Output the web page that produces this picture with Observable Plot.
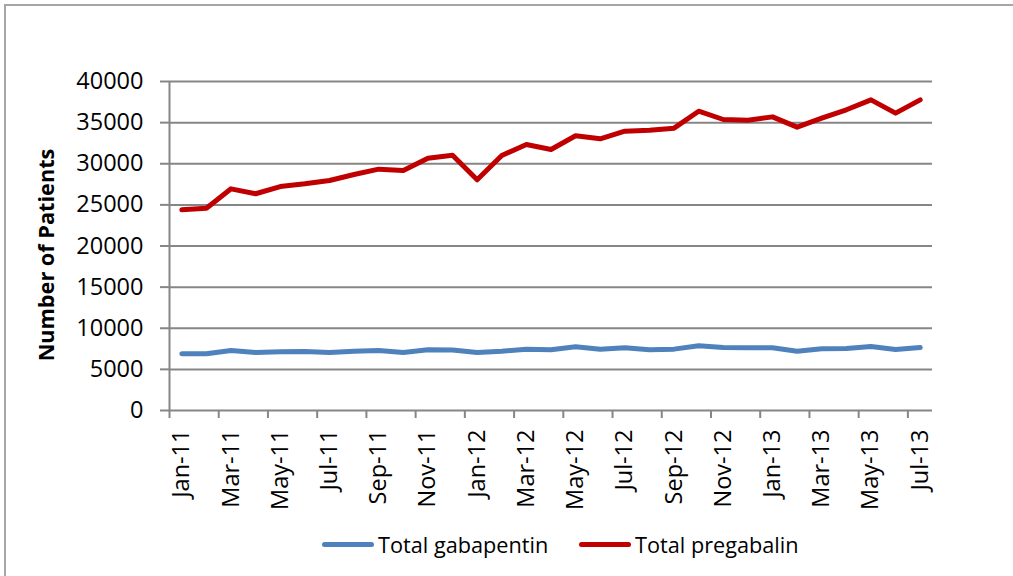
<!DOCTYPE html>
<html>
<head>
<meta charset="utf-8">
<script src="https://cdn.jsdelivr.net/npm/d3@7"></script>
<script src="https://cdn.jsdelivr.net/npm/@observablehq/plot@0.6"></script>
<style>
  html, body { margin: 0; padding: 0; background: #fff; }
  body { width: 1013px; height: 576px; overflow: hidden; position: relative; font-family: "Open Sans", sans-serif; }
  #chart { position: absolute; left: 0; top: 0; }
  #frame { position: absolute; left: 4px; top: 4px; width: 1100px; height: 700px; border: 2px solid #a6a6a6; pointer-events: none; }
  .leg { position: absolute; top: 531px; height: 26px; display: flex; align-items: center; font-size: 21.7px; color: #000; }
  .leg .sw { width: 52px; height: 5px; border-radius: 3px; margin-right: 4px; }
  #ytitle { position: absolute; left: 45px; top: 255px; transform: translate(-50%, -50%) rotate(-90deg); white-space: nowrap; font-weight: bold; font-size: 21.7px; color: #000; }
</style>
</head>
<body>
<div id="chart"></div>
<div id="frame"></div>
<div id="ytitle"></div>
<div class="leg" style="left:322px"><div class="sw" style="background:#4F81BD"></div>Total gabapentin</div>
<div class="leg" style="left:579px"><div class="sw" style="background:#C00000"></div>Total pregabalin</div>
<script>
const months = ["Jan-11","Feb-11","Mar-11","Apr-11","May-11","Jun-11","Jul-11","Aug-11","Sep-11","Oct-11","Nov-11","Dec-11",
  "Jan-12","Feb-12","Mar-12","Apr-12","May-12","Jun-12","Jul-12","Aug-12","Sep-12","Oct-12","Nov-12","Dec-12",
  "Jan-13","Feb-13","Mar-13","Apr-13","May-13","Jun-13","Jul-13"];
const gabapentin = [6890,6900,7300,7050,7130,7170,7050,7210,7300,7050,7380,7350,
  7050,7210,7460,7380,7740,7460,7620,7380,7460,7860,7660,7620,
  7620,7210,7500,7540,7780,7420,7660];
const pregabalin = [24400,24600,26950,26350,27230,27560,27960,28690,29340,29180,30680,31040,
  28050,31000,32340,31730,33400,33030,33960,34080,34330,36390,35380,35300,
  35700,34450,35540,36560,37770,36150,37770];
const yTicks = [0,5000,10000,15000,20000,25000,30000,35000,40000];
const yTitle = "Number of Patients";

document.getElementById("ytitle").textContent = yTitle;

const data = months.map((m, i) => ({i, month: m, gaba: gabapentin[i], prega: pregabalin[i]}));
const labelIdx = months.map((m, i) => i).filter(i => i % 2 === 0);
const boundaries = labelIdx.map(i => i - 0.5);

const plot = Plot.plot({
  width: 1013, height: 576,
  marginLeft: 169, marginRight: 81, marginTop: 81, marginBottom: 166,
  style: {fontFamily: "'Open Sans', sans-serif", fontSize: "23.5px", color: "#000", background: "none"},
  x: {type: "linear", domain: [-0.5, months.length - 0.5]},
  y: {domain: [0, 40000]},
  marks: [
    Plot.gridY(yTicks, {stroke: "#868686", strokeOpacity: 1, strokeWidth: 2}),
    Plot.axisY(yTicks, {tickSize: 9, tickPadding: 17, stroke: "#868686", strokeWidth: 2, tickFormat: d => String(d), fill: "#000", label: null}),
    Plot.ruleX([-0.5], {stroke: "#868686", strokeWidth: 2}),
    Plot.axisX(boundaries, {tickSize: 8, tickFormat: () => "", stroke: "#868686", strokeWidth: 2, label: null}),
    Plot.axisX(labelIdx, {tickSize: 0, tickRotate: -90, tickPadding: 19, tickFormat: i => months[i], fill: "#000", label: null}),
    Plot.line(data, {x: "i", y: "gaba", stroke: "#4F81BD", strokeWidth: 5, strokeLinecap: "round", strokeLinejoin: "round"}),
    Plot.line(data, {x: "i", y: "prega", stroke: "#C00000", strokeWidth: 5, strokeLinecap: "round", strokeLinejoin: "round"})
  ]
});
document.getElementById("chart").appendChild(plot);
</script>
</body>
</html>
